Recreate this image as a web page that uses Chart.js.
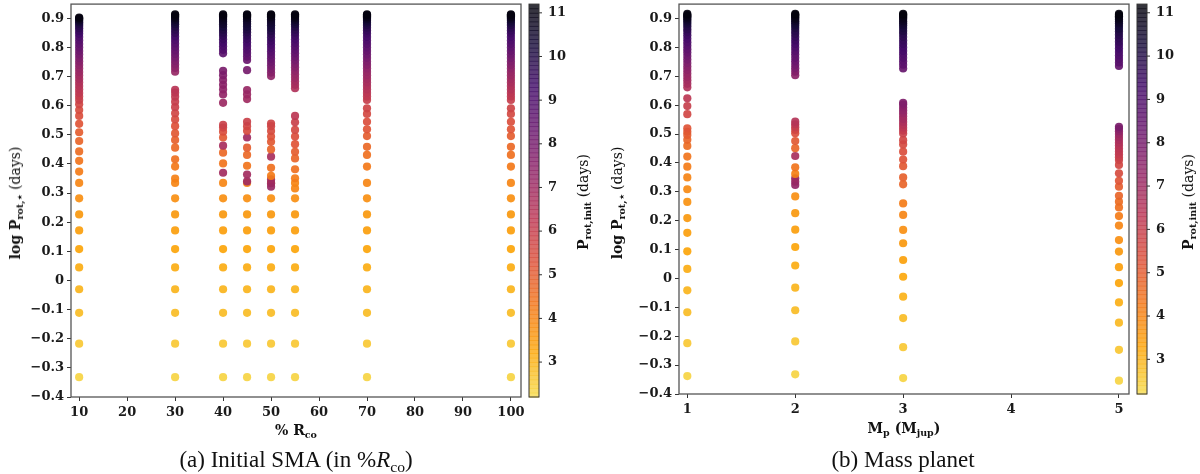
<!DOCTYPE html>
<html>
<head>
<meta charset="utf-8">
<script src="https://cdn.jsdelivr.net/npm/chart.js@4.4.0/dist/chart.umd.min.js"></script>
<style>
  body { margin: 0; background: #fff; width: 1200px; height: 474px; position: relative; overflow: hidden;
         font-family: "DejaVu Serif", serif; color: #111; }
  canvas { position: absolute; top: 0; }
  .t { position: absolute; white-space: nowrap; transform: translate(-50%, -50%); font-size: 14px; }
  .t b { font-weight: bold; }
  .r { transform: translate(-50%, -50%) rotate(-90deg); }
  .cap { position: absolute; white-space: nowrap; transform: translate(-50%, -50%);
         font-family: "Liberation Serif", serif; font-size: 23px; }
  sub { font-size: 0.68em; line-height: 0; vertical-align: -0.3em; }
</style>
</head>
<body>
<canvas id="left" width="600" height="440" style="left:0"></canvas>
<canvas id="right" width="600" height="440" style="left:600px"></canvas>

<div class="t r" style="left:15px;top:203px"><b>log P<sub>rot,⋆</sub></b> (days)</div>
<div class="t" style="left:296px;top:430px"><b>% R<sub>co</sub></b></div>
<div class="t r" style="left:583px;top:202px"><b>P<sub>rot,init</sub></b> (days)</div>
<div class="cap" style="left:296px;top:460px">(a) Initial SMA (in %<i>R</i><sub>co</sub>)</div>

<div class="t r" style="left:617px;top:203px"><b>log P<sub>rot,⋆</sub></b> (days)</div>
<div class="t" style="left:904px;top:428px"><b>M<sub>p</sub> (M<sub>jup</sub>)</b></div>
<div class="t r" style="left:1188px;top:202px"><b>P<sub>rot,init</sub></b> (days)</div>
<div class="cap" style="left:903px;top:460px">(b) Mass planet</div>

<script>
// Tick labels
var yTicks = [-0.4, -0.3, -0.2, -0.1, 0, 0.1, 0.2, 0.3, 0.4, 0.5, 0.6, 0.7, 0.8, 0.9];
var smaTicks = [10, 20, 30, 40, 50, 60, 70, 80, 90, 100];
var massTicks = [1, 2, 3, 4, 5];
var cbTicks = [3, 4, 5, 6, 7, 8, 9, 10, 11];

// (a) initial SMA, in % of corotation radius
var smaX = [10, 30, 40, 45, 50, 55, 70, 100];

// lowest points, same in every SMA column
var smaBaseY = [-0.332, -0.217, -0.111, -0.030, 0.045, 0.108, 0.172, 0.227, 0.282, 0.335];
var smaBaseP = [2.35, 2.6, 2.85, 3.0, 3.15, 3.3, 3.45, 3.6, 3.8, 4.0];

// rest of each column: log Prot,* and matching Prot,init
var smaY = [
  [0.374, 0.411, 0.443, 0.479, 0.509, 0.538, 0.565, 0.585, 0.605, 0.620, 0.632, 0.644, 0.656, 0.668, 0.680, 0.692, 0.704, 0.716, 0.728, 0.740, 0.752, 0.764, 0.776, 0.788, 0.800, 0.812, 0.824, 0.836, 0.847, 0.857, 0.866, 0.874, 0.881, 0.887, 0.892, 0.896, 0.900, 0.903],
  [0.350, 0.391, 0.416, 0.456, 0.482, 0.505, 0.530, 0.553, 0.574, 0.595, 0.614, 0.631, 0.645, 0.655, 0.717, 0.730, 0.742, 0.754, 0.766, 0.778, 0.790, 0.802, 0.814, 0.826, 0.838, 0.850, 0.861, 0.871, 0.880, 0.888, 0.895, 0.901, 0.906, 0.910, 0.914],
  [0.370, 0.402, 0.439, 0.463, 0.491, 0.511, 0.525, 0.534, 0.610, 0.639, 0.656, 0.672, 0.688, 0.705, 0.720, 0.780, 0.792, 0.804, 0.816, 0.828, 0.840, 0.851, 0.861, 0.871, 0.880, 0.888, 0.895, 0.901, 0.906, 0.910, 0.914],
  [0.340, 0.364, 0.394, 0.431, 0.456, 0.491, 0.514, 0.530, 0.545, 0.623, 0.639, 0.654, 0.722, 0.757, 0.769, 0.781, 0.793, 0.805, 0.817, 0.829, 0.841, 0.852, 0.862, 0.872, 0.881, 0.889, 0.896, 0.902, 0.907, 0.911, 0.914],
  [0.322, 0.334, 0.347, 0.359, 0.387, 0.425, 0.450, 0.476, 0.494, 0.513, 0.530, 0.539, 0.702, 0.714, 0.726, 0.738, 0.750, 0.762, 0.774, 0.786, 0.798, 0.810, 0.822, 0.834, 0.846, 0.857, 0.867, 0.876, 0.884, 0.891, 0.897, 0.903, 0.907, 0.911, 0.914],
  [0.316, 0.351, 0.382, 0.419, 0.442, 0.468, 0.494, 0.517, 0.543, 0.565, 0.660, 0.672, 0.684, 0.696, 0.708, 0.720, 0.732, 0.744, 0.756, 0.768, 0.780, 0.792, 0.804, 0.816, 0.828, 0.840, 0.851, 0.861, 0.871, 0.880, 0.888, 0.895, 0.901, 0.906, 0.910, 0.914],
  [0.391, 0.431, 0.459, 0.496, 0.519, 0.545, 0.572, 0.591, 0.620, 0.632, 0.644, 0.656, 0.668, 0.680, 0.692, 0.704, 0.716, 0.728, 0.740, 0.752, 0.764, 0.776, 0.788, 0.800, 0.812, 0.824, 0.836, 0.848, 0.858, 0.868, 0.877, 0.885, 0.892, 0.898, 0.903, 0.907, 0.911, 0.914],
  [0.391, 0.431, 0.459, 0.496, 0.519, 0.545, 0.572, 0.591, 0.620, 0.632, 0.644, 0.656, 0.668, 0.680, 0.692, 0.704, 0.716, 0.728, 0.740, 0.752, 0.764, 0.776, 0.788, 0.800, 0.812, 0.824, 0.836, 0.848, 0.858, 0.868, 0.877, 0.885, 0.892, 0.898, 0.903, 0.907, 0.911, 0.914]
];
var smaP = [
  [4.2, 4.4, 4.6, 4.8, 5.0, 5.2, 5.4, 5.5, 5.7, 5.9, 6.0, 6.2, 6.3, 6.5, 6.6, 6.8, 6.9, 7.1, 7.2, 7.4, 7.6, 7.8, 8.0, 8.2, 8.4, 8.6, 8.8, 9.0, 9.3, 9.5, 9.7, 9.9, 10.1, 10.3, 10.5, 10.7, 10.9, 11.1],
  [4.1, 4.3, 4.5, 4.7, 4.9, 5.1, 5.3, 5.5, 5.7, 5.9, 6.0, 6.2, 6.3, 6.4, 7.2, 7.4, 7.6, 7.8, 8.0, 8.2, 8.4, 8.6, 8.8, 9.0, 9.3, 9.6, 9.8, 10.0, 10.2, 10.4, 10.6, 10.8, 10.9, 11.0, 11.1],
  [6.9, 4.4, 4.7, 6.8, 5.1, 5.4, 5.7, 5.9, 7.1, 7.3, 7.4, 7.5, 7.6, 7.8, 7.9, 8.7, 8.9, 9.1, 9.3, 9.5, 9.7, 9.9, 10.1, 10.3, 10.5, 10.6, 10.7, 10.8, 10.9, 11.0, 11.1],
  [7.0, 6.9, 4.4, 4.7, 5.0, 7.0, 5.5, 5.7, 5.9, 7.0, 7.1, 7.2, 8.0, 8.3, 8.5, 8.7, 8.9, 9.1, 9.3, 9.5, 9.7, 9.9, 10.1, 10.3, 10.4, 10.5, 10.6, 10.8, 10.9, 11.0, 11.1],
  [7.2, 7.1, 7.0, 4.2, 4.5, 6.8, 4.8, 5.1, 5.3, 5.5, 5.7, 5.8, 7.4, 7.6, 7.8, 8.0, 8.2, 8.4, 8.6, 8.8, 9.0, 9.2, 9.4, 9.6, 9.8, 10.0, 10.2, 10.3, 10.4, 10.5, 10.6, 10.8, 10.9, 11.0, 11.1],
  [4.0, 4.2, 4.5, 4.8, 5.0, 5.2, 5.4, 5.6, 5.9, 6.3, 6.6, 6.8, 6.9, 7.1, 7.2, 7.4, 7.6, 7.8, 8.0, 8.2, 8.4, 8.6, 8.8, 9.0, 9.2, 9.4, 9.6, 9.8, 10.0, 10.2, 10.4, 10.6, 10.8, 10.9, 11.0, 11.1],
  [4.3, 4.5, 4.7, 5.0, 5.2, 5.4, 5.6, 5.8, 6.0, 6.2, 6.3, 6.5, 6.6, 6.8, 6.9, 7.1, 7.2, 7.4, 7.6, 7.8, 8.0, 8.2, 8.4, 8.6, 8.8, 9.0, 9.2, 9.4, 9.6, 9.8, 10.0, 10.2, 10.4, 10.6, 10.8, 10.9, 11.0, 11.1],
  [4.3, 4.5, 4.7, 5.0, 5.2, 5.4, 5.6, 5.8, 6.0, 6.2, 6.3, 6.5, 6.6, 6.8, 6.9, 7.1, 7.2, 7.4, 7.6, 7.8, 8.0, 8.2, 8.4, 8.6, 8.8, 9.0, 9.2, 9.4, 9.6, 9.8, 10.0, 10.2, 10.4, 10.6, 10.8, 10.9, 11.0, 11.1]
];

// (b) planet mass, in Jupiter masses
var massX = [1, 2, 3, 5];
var massY = [
  [-0.338, -0.224, -0.117, -0.041, 0.033, 0.094, 0.158, 0.209, 0.265, 0.309, 0.350, 0.387, 0.422, 0.459, 0.480, 0.497, 0.508, 0.520, 0.569, 0.597, 0.624, 0.662, 0.674, 0.686, 0.698, 0.710, 0.722, 0.734, 0.746, 0.758, 0.770, 0.782, 0.794, 0.806, 0.818, 0.830, 0.842, 0.853, 0.863, 0.873, 0.882, 0.890, 0.897, 0.903, 0.908, 0.912, 0.916],
  [-0.332, -0.218, -0.110, -0.032, 0.045, 0.109, 0.169, 0.226, 0.284, 0.324, 0.335, 0.347, 0.362, 0.385, 0.424, 0.451, 0.476, 0.503, 0.514, 0.524, 0.534, 0.543, 0.704, 0.716, 0.728, 0.740, 0.752, 0.764, 0.776, 0.788, 0.800, 0.812, 0.824, 0.836, 0.847, 0.857, 0.867, 0.876, 0.884, 0.891, 0.898, 0.904, 0.909, 0.913, 0.916],
  [-0.345, -0.238, -0.137, -0.063, 0.006, 0.064, 0.122, 0.168, 0.220, 0.260, 0.326, 0.350, 0.389, 0.412, 0.439, 0.464, 0.479, 0.502, 0.512, 0.522, 0.532, 0.542, 0.552, 0.562, 0.572, 0.582, 0.592, 0.602, 0.608, 0.727, 0.740, 0.752, 0.764, 0.776, 0.788, 0.800, 0.812, 0.824, 0.836, 0.847, 0.857, 0.867, 0.876, 0.884, 0.891, 0.898, 0.904, 0.909, 0.913, 0.916],
  [-0.354, -0.247, -0.153, -0.083, -0.016, 0.039, 0.093, 0.133, 0.183, 0.216, 0.246, 0.266, 0.286, 0.318, 0.338, 0.364, 0.393, 0.410, 0.420, 0.430, 0.440, 0.450, 0.460, 0.470, 0.480, 0.490, 0.500, 0.510, 0.518, 0.525, 0.736, 0.748, 0.760, 0.772, 0.784, 0.796, 0.808, 0.820, 0.832, 0.844, 0.855, 0.865, 0.874, 0.883, 0.890, 0.897, 0.903, 0.908, 0.912, 0.916]
];
var massP = [
  [2.35, 2.6, 2.85, 3.0, 3.15, 3.3, 3.45, 3.6, 3.75, 3.9, 4.05, 4.2, 4.4, 4.6, 4.8, 5.0, 5.1, 5.2, 5.7, 6.0, 6.3, 6.6, 6.8, 6.9, 7.1, 7.2, 7.4, 7.6, 7.8, 8.0, 8.2, 8.4, 8.6, 8.8, 9.0, 9.2, 9.4, 9.6, 9.8, 10.0, 10.2, 10.4, 10.6, 10.8, 10.9, 11.0, 11.1],
  [2.35, 2.6, 2.85, 3.0, 3.15, 3.3, 3.45, 3.6, 3.8, 7.3, 7.2, 7.1, 4.1, 4.4, 6.8, 4.8, 5.1, 5.4, 5.7, 6.0, 6.3, 6.5, 7.5, 7.7, 7.9, 8.1, 8.3, 8.5, 8.6, 8.8, 9.0, 9.2, 9.4, 9.6, 9.8, 9.9, 10.1, 10.3, 10.4, 10.6, 10.8, 10.9, 11.0, 11.1, 11.15],
  [2.35, 2.6, 2.85, 3.05, 3.25, 3.4, 3.6, 3.8, 4.0, 4.2, 4.8, 4.9, 5.1, 5.25, 5.4, 5.55, 5.7, 5.9, 6.1, 6.3, 6.5, 6.7, 6.9, 7.0, 7.2, 7.4, 7.5, 7.7, 7.8, 8.4, 8.6, 8.7, 8.9, 9.0, 9.2, 9.3, 9.5, 9.6, 9.8, 9.9, 10.1, 10.2, 10.4, 10.5, 10.7, 10.8, 10.9, 11.0, 11.1, 11.15],
  [2.35, 2.65, 2.9, 3.1, 3.3, 3.45, 3.6, 3.8, 4.0, 4.2, 4.5, 4.6, 4.8, 5.0, 5.2, 5.5, 5.65, 5.8, 5.95, 6.1, 6.2, 6.3, 6.45, 6.6, 6.75, 6.9, 7.1, 7.4, 7.6, 7.9, 8.5, 8.7, 8.8, 9.0, 9.1, 9.3, 9.4, 9.6, 9.7, 9.9, 10.0, 10.2, 10.3, 10.5, 10.6, 10.8, 10.9, 11.0, 11.1, 11.15]
];

// inferno colormap, reversed (short periods yellow, long periods black)
var inferno = ["#000004", "#160b39", "#420a68", "#6a176e", "#932667", "#bc3754",
               "#dd513a", "#f37819", "#fca50a", "#f6d746", "#fcffa4"];
var cbMin = 2.2, cbMax = 11.2;

function hexRgb(h) {
  return [parseInt(h.substr(1, 2), 16), parseInt(h.substr(3, 2), 16), parseInt(h.substr(5, 2), 16)];
}

function periodColor(p, alpha) {
  var t = 0.91 - 0.1 * (p - cbMin);
  t = Math.max(0, Math.min(1, t)) * 10;
  var i = Math.min(9, Math.floor(t)), f = t - i;
  var a = hexRgb(inferno[i]), b = hexRgb(inferno[i + 1]);
  var c = a.map(function (v, k) { return Math.round(v + (b[k] - v) * f); });
  return "rgba(" + c[0] + "," + c[1] + "," + c[2] + "," + alpha + ")";
}

function fmtY(v) {
  v = Math.round(v * 10) / 10;
  if (v === 0) return "0";
  return (v < 0 ? "\u2212" : "") + Math.abs(v).toFixed(1);
}

Chart.defaults.font.family = "DejaVu Serif";
Chart.defaults.font.size = 13;
Chart.defaults.font.weight = "bold";
Chart.defaults.color = "#1a1a1a";

// frame round the plot and the colorbar beside it
var framePlugin = {
  id: "frame",
  afterDraw: function (chart) {
    var ctx = chart.ctx, a = chart.chartArea, cb = chart.scales.cb;
    ctx.save();
    ctx.strokeStyle = "#555";
    ctx.lineWidth = 1.3;
    ctx.strokeRect(a.left, a.top, a.right - a.left, a.bottom - a.top);

    var x0 = a.right + 8, w = 10, n = 90;
    for (var i = 0; i < n; i++) {
      var v0 = cbMin + (cbMax - cbMin) * i / n;
      var v1 = cbMin + (cbMax - cbMin) * (i + 1) / n;
      var y0 = cb.getPixelForValue(v0), y1 = cb.getPixelForValue(v1);
      ctx.fillStyle = periodColor((v0 + v1) / 2, 0.8);
      ctx.fillRect(x0, y1, w, y0 - y1 + 0.7);
    }
    var top = cb.getPixelForValue(cbMax), bot = cb.getPixelForValue(cbMin);
    ctx.strokeStyle = "#333";
    ctx.lineWidth = 1;
    ctx.strokeRect(x0, top, w, bot - top);
    cbTicks.forEach(function (v) {
      var y = cb.getPixelForValue(v);
      ctx.beginPath();
      ctx.moveTo(x0 + w, y);
      ctx.lineTo(x0 + w + 3, y);
      ctx.stroke();
    });
    ctx.restore();
  }
};

function makePanel(id, xs, ys, ps, xMin, xMax, xTicks, yW, cbW, xH, yMax) {
  var points = [], colors = [];
  xs.forEach(function (x, c) {
    var cy = ys[c], cp = ps[c];
    cy.forEach(function (y, k) {
      points.push({ x: x, y: y });
      colors.push(periodColor(cp[k], 0.92));
    });
  });

  var tickGrid = { drawOnChartArea: false, drawTicks: true, tickLength: 4, color: "#333", lineWidth: 1 };

  return new Chart(document.getElementById(id), {
    type: "scatter",
    data: {
      datasets: [{
        data: points,
        backgroundColor: colors,
        pointRadius: 4.1,
        pointBorderWidth: 0,
        pointHoverRadius: 4.1
      }]
    },
    options: {
      responsive: false,
      animation: false,
      events: [],
      layout: { padding: { top: 4, left: 0, right: 0, bottom: 0 } },
      plugins: { legend: { display: false }, tooltip: { enabled: false } },
      scales: {
        x: {
          type: "linear", min: xMin, max: xMax,
          afterBuildTicks: function (s) { s.ticks = xTicks.map(function (v) { return { value: v }; }); },
          afterFit: function (s) { s.height = xH; s.paddingLeft = 0; s.paddingRight = 0; },
          ticks: { padding: 4, maxRotation: 0, autoSkip: false },
          grid: tickGrid,
          border: { display: false }
        },
        y: {
          type: "linear", position: "left", min: -0.4, max: yMax,
          afterBuildTicks: function (s) { s.ticks = yTicks.map(function (v) { return { value: v }; }); },
          afterFit: function (s) { s.width = yW; s.paddingTop = 0; s.paddingBottom = 0; },
          ticks: { padding: 3, autoSkip: false, callback: fmtY },
          grid: tickGrid,
          border: { display: false }
        },
        cb: {
          type: "linear", position: "right", min: cbMin, max: cbMax,
          afterBuildTicks: function (s) { s.ticks = cbTicks.map(function (v) { return { value: v }; }); },
          afterFit: function (s) { s.width = cbW; s.paddingTop = 0; s.paddingBottom = 0; },
          ticks: { padding: 27, autoSkip: false },
          grid: { display: false, drawTicks: false },
          border: { display: false }
        }
      }
    },
    plugins: [framePlugin]
  });
}

makePanel("left", smaX, smaX.map(function (x, c) { return smaBaseY.concat(smaY[c]); }),
  smaX.map(function (x, c) { return smaBaseP.concat(smaP[c]); }),
  8.3, 102.1, smaTicks, 71, 79, 43, 0.949);

makePanel("right", massX, massY, massP, 0.923, 5.093, massTicks, 79, 71, 46, 0.95);
</script>
</body>
</html>
